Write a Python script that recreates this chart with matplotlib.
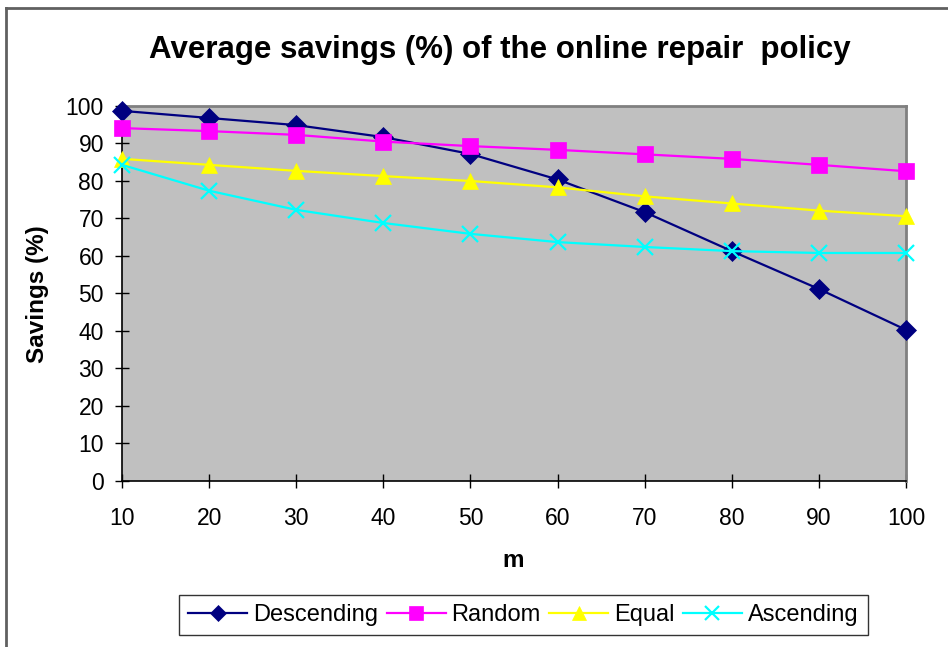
import matplotlib.pyplot as plt
from matplotlib.lines import Line2D

plt.rcParams['font.family'] = ['Liberation Sans', 'DejaVu Sans']

# --- data ---
M = [10, 20, 30, 40, 50, 60, 70, 80, 90, 100]
DESCENDING = [98.7, 96.8, 94.9, 91.7, 87.2, 80.4, 71.7, 61.3, 51.2, 40.3]
RANDOM = [94.1, 93.3, 92.3, 90.5, 89.3, 88.3, 87.1, 85.9, 84.3, 82.6]
EQUAL = [85.9, 84.3, 82.7, 81.3, 80.0, 78.3, 75.9, 74.0, 72.1, 70.6]
ASCENDING = [84.3, 77.4, 72.3, 68.8, 65.9, 63.7, 62.4, 61.3, 60.8, 60.8]
Y_TICKS = list(range(0, 101, 10))

SERIES = [
    ("Descending", DESCENDING, "#000080", "D", 10),
    ("Random", RANDOM, "#ff00ff", "s", 11.5),
    ("Equal", EQUAL, "#ffff00", "^", 12),
    ("Ascending", ASCENDING, "#00ffff", "x", 12),
]

fig = plt.figure(figsize=(9.48, 6.47), dpi=100)
fig.patch.set_facecolor("white")
ax = fig.add_axes([0.1287, 0.2566, 0.8270, 0.5796])
ax.set_facecolor("#c0c0c0")

for name, vals, col, mk, ms in SERIES:
    ax.plot(M, vals, color=col, lw=1.6, marker=mk, markersize=ms,
            markeredgewidth=1.6 if mk == "x" else 0.5, markeredgecolor=col,
            markerfacecolor=col, clip_on=False, zorder=3, label=name)

ax.set_xlim(10, 100)
ax.set_ylim(0, 100)
ax.set_xticks(M)
ax.set_yticks(Y_TICKS)
ax.tick_params(axis="both", direction="inout", length=10, width=1, labelsize=16.5,
               colors="black", pad=8)
ax.tick_params(axis="x", pad=14)
for s in ("top", "right"):
    ax.spines[s].set_color("#808080")
    ax.spines[s].set_linewidth(2)
for s in ("left", "bottom"):
    ax.spines[s].set_color("black")
    ax.spines[s].set_linewidth(1.2)

fig.text(0.527, 0.922, "Average savings (%) of the online repair  policy",
         ha="center", va="center", fontsize=22.5, fontweight="bold")
fig.text(0.040, 0.546, "Savings (%)", ha="center", va="center", rotation=90,
         fontsize=17.5, fontweight="bold")
fig.text(0.541, 0.133, "m", ha="center", va="center", fontsize=17.5, fontweight="bold")

# legend
handles = [Line2D([0], [0], color=c, lw=1.6, marker=mk, markersize=ms * 0.85,
                  markeredgecolor=c, markerfacecolor=c,
                  markeredgewidth=1.6 if mk == "x" else 0.5)
           for _, _, c, mk, ms in SERIES]
labels = [n for n, *_ in SERIES]
leg = fig.legend(handles, labels, loc="center", bbox_to_anchor=(0.552, 0.0495),
                 ncol=4, fontsize=17, frameon=True, fancybox=False,
                 handlelength=2.5, handletextpad=0.25, columnspacing=0.35,
                 borderpad=0.4, edgecolor="black")
leg.get_frame().set_linewidth(1)

# outer chart frame (cropped on right/bottom)
fig.add_artist(Line2D([0.0065, 0.0065], [0, 0.988], color="#606060", lw=2,
                      transform=fig.transFigure))
fig.add_artist(Line2D([0.0065, 1], [0.988, 0.988], color="#606060", lw=2,
                      transform=fig.transFigure))

fig.savefig("out.png", dpi=100, facecolor="white")
